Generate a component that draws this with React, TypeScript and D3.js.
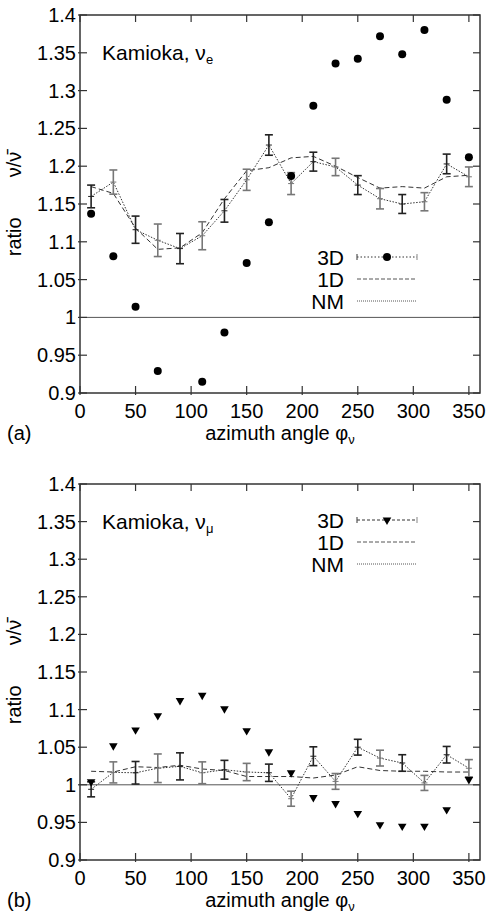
import React from "react";
import * as d3 from "d3";

const angles = [10, 30, 50, 70, 90, 110, 130, 150, 170, 190, 210, 230, 250, 270, 290, 310, 330, 350];
const xTicks = [0, 50, 100, 150, 200, 250, 300, 350];
const yTicks = [0.9, 0.95, 1, 1.05, 1.1, 1.15, 1.2, 1.25, 1.3, 1.35, 1.4];
const legendLabels = ["3D", "1D", "NM"];

// Panel (a): nu_e
const e3D: (number | null)[] = [1.137, 1.081, 1.014, 0.929, null, 0.915, 0.980, 1.072, 1.126, 1.187, 1.280, 1.336, 1.342, 1.372, 1.348, 1.380, 1.288, 1.212];
const eNM = [1.160, 1.179, 1.116, 1.102, 1.091, 1.108, 1.141, 1.182, 1.228, 1.177, 1.206, 1.199, 1.175, 1.157, 1.150, 1.153, 1.203, 1.186];
const eErr = [0.015, 0.016, 0.018, 0.0215, 0.020, 0.0185, 0.015, 0.014, 0.0135, 0.0145, 0.0125, 0.0115, 0.0125, 0.0135, 0.0125, 0.012, 0.013, 0.013];
const e1D = [1.173, 1.164, 1.118, 1.090, 1.092, 1.112, 1.157, 1.194, 1.198, 1.211, 1.213, 1.200, 1.185, 1.171, 1.173, 1.171, 1.186, 1.188];

// Panel (b): nu_mu
const mu3D: (number | null)[] = [1.004, 1.052, 1.073, 1.092, 1.112, 1.119, 1.101, 1.072, 1.044, 1.016, 0.983, 0.975, 0.962, 0.947, 0.945, 0.945, 0.967, 1.007];
const muNM = [0.994, 1.0165, 1.016, 1.022, 1.0245, 1.016, 1.020, 1.017, 1.016, 0.9815, 1.038, 1.0045, 1.050, 1.0355, 1.029, 1.0025, 1.040, 1.022];
const muErr = [0.010, 0.014, 0.015, 0.019, 0.018, 0.0145, 0.0125, 0.0115, 0.0115, 0.010, 0.0125, 0.0105, 0.0105, 0.0105, 0.011, 0.010, 0.011, 0.0115];
const mu1D = [1.018, 1.017, 1.024, 1.023, 1.026, 1.021, 1.019, 1.011, 1.011, 1.011, 1.009, 1.013, 1.024, 1.019, 1.018, 1.018, 1.017, 1.017];

const FONT = "'Liberation Sans', Arial, Helvetica, sans-serif";

type PanelProps = {
  top: number;
  bottom: number;
  flavor: string;
  tag: string;
  pts: (number | null)[];
  nm: number[];
  err: number[];
  one: number[];
  marker: "circle" | "tri";
  legendY: number;
};

function Marker({ kind, x, y }: { kind: "circle" | "tri"; x: number; y: number }) {
  if (kind === "circle") return <circle cx={x} cy={y} r={4} fill="#000" />;
  const path = d3.symbol(d3.symbolTriangle, 32)();
  return <path d={path || ""} transform={`translate(${x},${y}) rotate(180)`} fill="#000" />;
}

function Panel(p: PanelProps) {
  const left = 80, right = 480;
  const x = d3.scaleLinear().domain([0, 360]).range([left, right]);
  const y = d3.scaleLinear().domain([0.9, 1.4]).range([p.bottom, p.top]);
  const lineGen = d3.line<number>().x((_, i) => x(angles[i])).y((v) => y(v));
  const tickLen = 7;
  const midY = (p.top + p.bottom) / 2;
  const fs = 20;
  return (
    <g fontFamily={FONT} fill="#000">
      <line x1={left} x2={right} y1={y(1)} y2={y(1)} stroke="#555" strokeWidth={1} />
      <path d={lineGen(p.one) || ""} fill="none" stroke="#333" strokeWidth={1} strokeDasharray="5,3" />
      <path d={lineGen(p.nm) || ""} fill="none" stroke="#333" strokeWidth={1} strokeDasharray="1.5,1.5" />
      {p.nm.map((v, i) => {
        const cx = x(angles[i]);
        const y1 = y(v + p.err[i]);
        const y2 = y(v - p.err[i]);
        const col = i % 2 === 0 ? "#222" : "#777";
        return (
          <g key={"e" + i} stroke={col} strokeWidth={1.6}>
            <line x1={cx} x2={cx} y1={y1} y2={y2} />
            <line x1={cx - 4} x2={cx + 4} y1={y1} y2={y1} />
            <line x1={cx - 4} x2={cx + 4} y1={y2} y2={y2} />
            <line x1={cx - 3} x2={cx + 3} y1={y(v)} y2={y(v)} strokeWidth={1} />
          </g>
        );
      })}
      {p.pts.map((v, i) =>
        v == null ? null : <Marker key={"m" + i} kind={p.marker} x={x(angles[i])} y={y(v)} />
      )}
      <rect x={left} y={p.top} width={right - left} height={p.bottom - p.top} fill="none" stroke="#333" strokeWidth={1.5} />
      {xTicks.map((t) => (
        <g key={"xt" + t}>
          <line x1={x(t)} x2={x(t)} y1={p.bottom + 2} y2={p.bottom - tickLen} stroke="#333" strokeWidth={1.2} />
          <line x1={x(t)} x2={x(t)} y1={p.top} y2={p.top + tickLen} stroke="#333" strokeWidth={1.2} />
          <text x={x(t)} y={p.bottom + 25} textAnchor="middle" fontSize={fs}>{t}</text>
        </g>
      ))}
      {yTicks.map((t) => (
        <g key={"yt" + t}>
          <line x1={left - 2} x2={left + tickLen} y1={y(t)} y2={y(t)} stroke="#333" strokeWidth={1.2} />
          <line x1={right} x2={right - tickLen} y1={y(t)} y2={y(t)} stroke="#333" strokeWidth={1.2} />
          <text x={left - 4} y={y(t) + 7} textAnchor="end" fontSize={fs}>{d3.format("")(t)}</text>
        </g>
      ))}
      <text x={(left + right) / 2} y={p.bottom + 47} textAnchor="middle" fontSize={fs}>
        azimuth angle φ<tspan fontSize={13} dy={4}>ν</tspan>
      </text>
      <text x={7} y={p.bottom + 47} fontSize={fs}>{p.tag}</text>
      <text transform={`translate(21,${midY}) rotate(-90)`} textAnchor="middle" fontSize={fs}>
        ratio{"\u2003\u2003"}ν/ν̄
      </text>
      <text x={102} y={y(1.35) + 7.5} fontSize={21}>
        Kamioka, ν<tspan fontSize={13} dy={4}>{p.flavor}</tspan>
      </text>
      {legendLabels.map((lab, i) => {
        const ly = p.legendY + i * 22;
        return (
          <g key={"lg" + i}>
            <text x={344} y={ly + 7.5} textAnchor="end" fontSize={21}>{lab}</text>
            {i === 0 && (
              <g>
                <line x1={357} x2={417} y1={ly} y2={ly} stroke="#333" strokeWidth={1} strokeDasharray={p.marker === "circle" ? "1.5,2" : "3,2"} />
                <line x1={357} x2={357} y1={ly - 3} y2={ly + 3} stroke="#555" strokeWidth={1.2} />
                <line x1={417} x2={417} y1={ly - 3} y2={ly + 3} stroke="#999" strokeWidth={1.2} />
                <Marker kind={p.marker} x={387} y={ly} />
              </g>
            )}
            {i === 1 && <line x1={357} x2={417} y1={ly} y2={ly} stroke="#555" strokeWidth={1} strokeDasharray="4,2" />}
            {i === 2 && <line x1={357} x2={417} y1={ly} y2={ly} stroke="#555" strokeWidth={1} strokeDasharray="1,1" />}
          </g>
        );
      })}
    </g>
  );
}

export default function App() {
  return (
    <svg width={489} height={922} style={{ position: "absolute", left: 0, top: 0, background: "#fff" }}>
      <rect width={489} height={922} fill="#fff" />
      <Panel top={15} bottom={393} flavor="e" tag="(a)" pts={e3D} nm={eNM} err={eErr} one={e1D} marker="circle" legendY={257} />
      <Panel top={484} bottom={860} flavor="μ" tag="(b)" pts={mu3D} nm={muNM} err={muErr} one={mu1D} marker="tri" legendY={520} />
    </svg>
  );
}
